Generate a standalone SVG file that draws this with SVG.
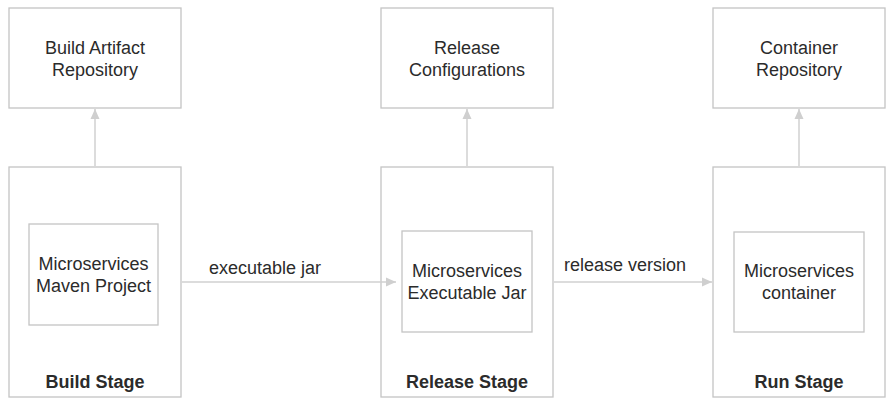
<svg xmlns="http://www.w3.org/2000/svg" width="894" height="404" viewBox="0 0 894 404">
<style>
.box{fill:#fff;stroke:#c4c4c4;stroke-width:1.3}
.t{font-family:"Liberation Sans",Arial,sans-serif;font-size:18px;fill:#2b2b2b;text-anchor:middle}
.b{font-weight:bold}
.c{stroke:#d0d0d0;stroke-width:1.5;fill:none}
</style>
<defs>
<marker id="ah" viewBox="0 0 10 10" refX="10" refY="5" markerWidth="10" markerHeight="10" markerUnits="userSpaceOnUse" orient="auto">
<path d="M0,0.5 L10,5 L0,9.5 Z" fill="#cfcfcf"/>
</marker>
</defs>
<rect width="894" height="404" fill="#fff"/>
<g id="build-artifact-repo">
<rect class="box" x="9" y="8" width="172" height="100"/>
<text class="t" x="95" y="54">Build Artifact</text>
<text class="t" x="95" y="76">Repository</text>
</g>
<g id="release-config">
<rect class="box" x="381" y="8" width="172" height="100"/>
<text class="t" x="467" y="54">Release</text>
<text class="t" x="467" y="76">Configurations</text>
</g>
<g id="container-repo">
<rect class="box" x="713" y="8" width="172" height="100"/>
<text class="t" x="799" y="54">Container</text>
<text class="t" x="799" y="76">Repository</text>
</g>
<g id="build-stage">
<rect class="box" x="9" y="167" width="172" height="230"/>
<text class="t b" x="95" y="388">Build Stage</text>
</g>
<g id="maven-project">
<rect class="box" x="29" y="224" width="129" height="101"/>
<text class="t" x="93.5" y="270">Microservices</text>
<text class="t" x="93.5" y="292">Maven Project</text>
</g>
<g id="release-stage">
<rect class="box" x="381" y="167" width="172" height="230"/>
<text class="t b" x="467" y="388">Release Stage</text>
</g>
<g id="executable-jar">
<rect class="box" x="402" y="231" width="130" height="101"/>
<text class="t" x="467" y="277">Microservices</text>
<text class="t" x="467" y="299">Executable Jar</text>
</g>
<g id="run-stage">
<rect class="box" x="713" y="167" width="172" height="230"/>
<text class="t b" x="799" y="388">Run Stage</text>
</g>
<g id="container">
<rect class="box" x="734" y="232" width="130" height="100"/>
<text class="t" x="799" y="277">Microservices</text>
<text class="t" x="799" y="299">container</text>
</g>
<g id="connectors">
<line class="c" x1="95" y1="166" x2="95" y2="109" marker-end="url(#ah)"/>
<line class="c" x1="467" y1="166" x2="467" y2="109" marker-end="url(#ah)"/>
<line class="c" x1="799" y1="166" x2="799" y2="109" marker-end="url(#ah)"/>
<line class="c" x1="182" y1="282" x2="396" y2="282" marker-end="url(#ah)"/>
<line class="c" x1="554" y1="282" x2="712" y2="282" marker-end="url(#ah)"/>
<text class="t" x="265" y="274">executable jar</text>
<text class="t" x="625" y="271">release version</text>
</g>
</svg>
